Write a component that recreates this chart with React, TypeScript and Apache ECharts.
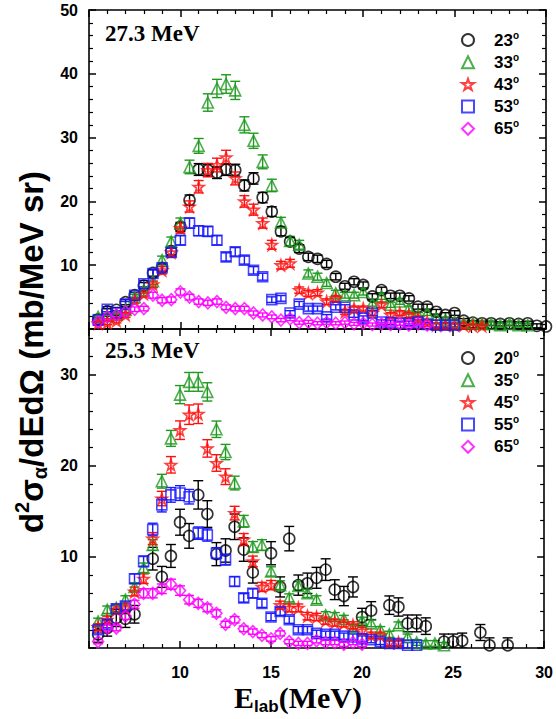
import React, { useEffect, useRef } from "react";
import * as echarts from "echarts";

// Lab energies (MeV) of the data points, shared by every series
const ENERGY = [
  5.5, 6, 6.5, 7, 7.5, 8, 8.5, 9, 9.5, 10,
  10.5, 11, 11.5, 12, 12.5, 13, 13.5, 14, 14.5, 15,
  15.5, 16, 16.5, 17, 17.5, 18, 18.5, 19, 19.5, 20,
  20.5, 21, 21.5, 22, 22.5, 23, 23.5, 24, 24.5, 25,
  25.5, 26, 26.5, 27, 27.5, 28, 28.5, 29, 29.5, 30,
];

// ---- 27.3 MeV panel (mb/MeV sr) ----
const TOP_23 = [
  1.5, 2.8, 3.0, 4.2, 5.3, 6.8, 8.8, 9.6, 12.2, 16.0,
  20.2, 25.0, 24.9, 24.5, 25.0, 24.9, 22.5, 23.6, 20.6, 18.4,
  15.3, 13.7, 12.6, 11.3, 11.0, 10.2, 8.2, 6.7, 7.4, 6.9,
  5.1, 6.1, 5.2, 5.2, 4.8, 3.5, 3.5, 2.7, 2.2, 2.5,
  1.3, 1.0, 0.9, 0.9, 0.8, 0.9, 0.8, 0.9, 0.5, 0.4,
];
const TOP_33 = [
  1.9, 2.0, 2.2, 3.0, 5.0, 6.1, 7.5, 10.8, 13.7, 16.6,
  25.4, 28.7, 35.5, 37.7, 38.4, 37.4, 32.0, 29.5, 26.2, 22.5,
  16.7, 13.8, 13.2, 8.7, 8.2, 7.2, 5.6, 5.3, 5.3, 5.8,
  4.0, 5.1, 3.8, 4.3, 3.2, 2.2, 2.5, 1.7, 1.4, 1.1,
  0.9, 0.9, 0.8, 0.8, 0.6, 0.8, 0.6, 0.6, null, null,
];
const TOP_43 = [
  0.9, 1.0, 1.3, 2.2, 4.5, 5.5, 7.0, 9.2, 12.0, 15.8,
  19.2, 22.3, 24.9, 25.7, 26.9, 23.6, 20.0, 18.7, 16.6, 13.2,
  10.0, 10.3, 6.1, 5.6, 5.7, 4.3, 4.8, 2.7, 3.2, 3.2,
  2.5, 3.8, 2.2, 2.5, 2.2, 1.7, 1.1, 0.6, 0.6, 0.6,
  0.6, 0.5, 0.5, null, null, null, null, null, null, null,
];
const TOP_53 = [
  1.4, 3.1, 2.5, 3.9, 5.3, 7.1, 8.7, 9.6, 12.0, 13.9,
  16.6, 15.4, 15.3, 13.9, 11.3, 12.1, 10.8, 9.2, 8.2, 4.6,
  4.8, 2.5, 3.9, 3.2, 3.2, 1.9, 3.4, 3.4, 2.2, 1.7,
  2.5, 1.1, 1.0, 0.9, 0.9, 1.1, 0.7, 0.6, 0.6, 0.6,
  null, null, null, null, null, null, null, null, null, null,
];
const TOP_65 = [
  1.1, 1.9, 2.2, 2.7, 3.1, 3.2, 5.3, 4.5, 4.6, 5.8,
  5.0, 4.3, 4.1, 4.3, 3.4, 3.2, 3.2, 2.5, 2.2, 1.9,
  1.4, 1.6, 1.0, 1.1, 0.9, 1.0, 0.9, 1.0, 0.8, 0.9,
  0.7, 0.8, 0.7, 0.8, 0.6, 0.8, 0.6, null, null, null,
  null, null, null, null, null, null, null, null, null, null,
];

// ---- 25.3 MeV panel (mb/MeV sr) ----
const BOT_20 = [
  1.5, 2.2, 3.3, 3.2, 3.7, null, 9.8, 7.8, 10.1, 13.8,
  12.3, 16.8, 14.7, 10.3, 10.7, 13.3, 10.8, 8.3, null, 10.4,
  6.7, 12.0, 6.9, 7.1, 7.7, 8.6, 6.4, 5.7, 6.7, 3.4,
  4.1, null, 4.7, 4.5, 2.7, 2.7, 2.4, null, 0.7, 0.7,
  0.8, null, 1.7, 0.3, null, 0.3, null, null, null, null,
];
const BOT_35 = [
  2.9, 4.2, 4.4, 5.3, 6.7, 8.8, 11.3, 18.3, 23.0, 27.8,
  29.2, 29.2, 28.1, 24.0, 21.5, 18.1, 13.9, 11.1, 11.3, 8.4,
  6.9, 5.5, 6.8, 6.0, 5.3, 3.6, 3.5, 3.2, 2.2, 3.0,
  2.7, 2.0, 1.5, 2.5, 1.2, 0.6, 0.5, 0.5, 0.3, null,
  null, null, null, null, null, null, null, null, null, null,
];
const BOT_45 = [
  2.3, 3.1, 4.2, 4.4, 6.2, 7.6, 12.0, 16.4, 20.1, 23.9,
  25.6, 25.7, 21.9, 20.3, 18.8, 14.8, 11.9, 9.5, 6.7, 6.9,
  4.7, 4.4, 4.4, 3.5, 3.4, 3.0, 2.8, 2.7, 2.5, 1.9,
  1.4, 1.4, 0.6, 0.6, null, null, null, null, null, null,
  null, null, null, null, null, null, null, null, null, null,
];
const BOT_55 = [
  2.0, 2.6, 4.3, 4.6, 7.6, 9.5, 13.0, 15.7, 16.8, 17.0,
  16.6, 12.6, 12.4, 10.4, 9.7, 7.3, 5.5, 6.0, 4.9, 3.4,
  4.0, 3.1, 2.0, 2.0, 1.6, 1.5, 1.5, 1.3, 1.2, 1.0,
  0.9, 0.7, 0.5, 0.5, 0.3, 0.3, null, null, null, null,
  null, null, null, null, null, null, null, null, null, null,
];
const BOT_65 = [
  0.7, 2.2, 2.2, 3.5, 4.8, 6.0, 6.0, 6.5, 7.0, 6.3,
  5.3, 4.9, 4.4, 3.8, 2.6, 3.1, 2.1, 1.8, 1.4, 1.0,
  1.6, 0.7, 0.5, 0.5, 0.8, 0.6, 0.6, 0.4, 0.6, 0.4,
  null, null, null, null, null, null, null, null, null, null,
  null, null, null, null, null, null, null, null, null, null,
];

// Estimated uncertainties: absolute floor + relative part, per series
const ERR_TOP_FLOOR = [0.3, 0.3, 0.3, 0.3, 0.2];
const ERR_TOP_FRAC = [0.025, 0.03, 0.03, 0.03, 0.05];
const ERR_BOT_FLOOR = [0.8, 0.3, 0.3, 0.3, 0.2];
const ERR_BOT_FRAC = [0.045, 0.025, 0.03, 0.03, 0.05];

const TOP_ANGLES = ["23", "33", "43", "53", "65"];
const BOT_ANGLES = ["20", "35", "45", "55", "65"];
const TOP_Y_TICKS = [0, 50, 10];
const BOT_Y_TICKS = [0, 35, 10];

const COLORS = ["#000000", "#1f9a1f", "#ff1010", "#1a1aff", "#ff00ff"];
const STAR =
  "path://M50,0 L61.8,35.4 L100,35.4 L69.1,57.3 L80.9,92.7 L50,70.8 L19.1,92.7 L30.9,57.3 L0,35.4 L38.2,35.4 Z";
const SYMBOLS = ["circle", "triangle", STAR, "rect", "diamond"];
const SIZES: any[] = [11, 11, 11, 10, [11, 12]];

const SANS = "Liberation Sans";
const SERIF = "Liberation Serif";

function points(values: (number | null)[]) {
  const out: number[][] = [];
  values.forEach((v, i) => {
    if (v !== null && v !== undefined) out.push([ENERGY[i], v]);
  });
  return out;
}

function makeSeries(panel: number, names: string[], sets: any[], floors: number[], fracs: number[]) {
  const res: any[] = [];
  sets.forEach((vals: any, k: number) => {
    const pts = points(vals);
    const color = COLORS[k];
    const axisIdx = panel === 0 ? 0 : 2;
    res.push({
      type: "custom",
      name: "err-" + panel + "-" + names[k],
      xAxisIndex: axisIdx,
      yAxisIndex: axisIdx,
      clip: true,
      z: 2,
      data: pts.map((p) => [p[0], p[1], floors[k] + fracs[k] * p[1]]),
      renderItem: (params: any, api: any) => {
        const x = api.value(0);
        const y = api.value(1);
        const e = api.value(2);
        const t = api.coord([x, y + e]);
        const b = api.coord([x, Math.max(0, y - e)]);
        const hw = 5;
        const st = { stroke: color, lineWidth: 1.4 };
        return {
          type: "group",
          children: [
            { type: "line", shape: { x1: t[0], y1: t[1], x2: b[0], y2: b[1] }, style: st },
            { type: "line", shape: { x1: t[0] - hw, y1: t[1], x2: t[0] + hw, y2: t[1] }, style: st },
            { type: "line", shape: { x1: b[0] - hw, y1: b[1], x2: b[0] + hw, y2: b[1] }, style: st },
          ],
        };
      },
    });
    res.push({
      type: "scatter",
      name: panel + "-" + names[k],
      xAxisIndex: axisIdx,
      yAxisIndex: axisIdx,
      symbol: SYMBOLS[k],
      symbolSize: SIZES[k],
      z: 3,
      itemStyle: { color: "transparent", borderColor: color, borderWidth: 1.6 },
      data: pts,
    });
  });
  return res;
}

function xAxis(grid: number, position: string, labels: boolean) {
  return {
    type: "value",
    gridIndex: grid,
    position,
    min: 5,
    max: 30,
    interval: 5,
    axisLine: { show: true, onZero: false, lineStyle: { color: "#000", width: 1.6 } },
    axisTick: { show: true, inside: true, length: 7, lineStyle: { color: "#000", width: 1.5 } },
    minorTick: { show: true, splitNumber: 5, length: 4, lineStyle: { color: "#000", width: 1.2 } },
    splitLine: { show: false },
    axisLabel: {
      show: labels,
      margin: 16,
      color: "#000",
      fontFamily: SANS,
      fontWeight: "bold",
      fontSize: 16,
      formatter: (v: number) => (v === 5 ? "" : String(v)),
    },
  };
}

function yAxis(grid: number, position: string, labels: boolean, ticks: number[]) {
  return {
    type: "value",
    gridIndex: grid,
    position,
    min: ticks[0],
    max: ticks[1],
    interval: ticks[2],
    axisLine: { show: true, onZero: false, lineStyle: { color: "#000", width: 1.6 } },
    axisTick: { show: true, inside: true, length: 7, lineStyle: { color: "#000", width: 1.5 } },
    minorTick: { show: true, splitNumber: 5, length: 4, lineStyle: { color: "#000", width: 1.2 } },
    splitLine: { show: false },
    axisLabel: {
      show: labels,
      margin: 11,
      color: "#000",
      fontFamily: SANS,
      fontWeight: "bold",
      fontSize: 16,
      formatter: (v: number) => (v === 0 || v % ticks[2] !== 0 ? "" : String(v)),
    },
  };
}

function legend(panel: number, names: string[], top: number) {
  return {
    orient: "vertical",
    left: 456,
    top,
    itemWidth: 12,
    itemHeight: 12,
    itemGap: 3.7,
    selectedMode: false,
    data: names.map((n) => panel + "-" + n),
    formatter: (name: string) => "{n|" + name.split("-")[1] + "}{s|o}",
    textStyle: {
      rich: {
        n: { fontFamily: SANS, fontWeight: "bold", fontSize: 17, color: "#000", lineHeight: 20, padding: [0, 0, 0, 15] },
        s: { fontFamily: SANS, fontWeight: "bold", fontSize: 10, color: "#000", lineHeight: 10, verticalAlign: "top" },
      },
    },
  };
}

function buildOption() {
  return {
    animation: false,
    backgroundColor: "#fff",
    grid: [
      { left: 89, top: 10, width: 457, height: 319 },
      { left: 89, top: 329, width: 457, height: 319 },
    ],
    xAxis: [xAxis(0, "bottom", false), xAxis(0, "top", false), xAxis(1, "bottom", true), xAxis(1, "top", false)],
    yAxis: [
      yAxis(0, "left", true, TOP_Y_TICKS),
      yAxis(0, "right", false, TOP_Y_TICKS),
      yAxis(1, "left", true, BOT_Y_TICKS),
      yAxis(1, "right", false, BOT_Y_TICKS),
    ],
    legend: [legend(0, TOP_ANGLES, 25), legend(1, BOT_ANGLES, 343)],
    series: [
      ...makeSeries(0, TOP_ANGLES, [TOP_23, TOP_33, TOP_43, TOP_53, TOP_65], ERR_TOP_FLOOR, ERR_TOP_FRAC),
      ...makeSeries(1, BOT_ANGLES, [BOT_20, BOT_35, BOT_45, BOT_55, BOT_65], ERR_BOT_FLOOR, ERR_BOT_FRAC),
    ],
    graphic: [
      {
        type: "text",
        left: 105,
        top: 22,
        style: { text: "27.3 MeV", fontFamily: SERIF, fontWeight: "bold", fontSize: 23, fill: "#000" },
      },
      {
        type: "text",
        left: 105,
        top: 339,
        style: { text: "25.3 MeV", fontFamily: SERIF, fontWeight: "bold", fontSize: 23, fill: "#000" },
      },
      {
        type: "text",
        x: 31,
        y: 352,
        rotation: Math.PI / 2,
        style: {
          text: "{a|d}{p|2}{a|σ}{b|α}{a|/dEdΩ (mb/MeV sr)}",
          align: "center",
          verticalAlign: "middle",
          fill: "#000",
          rich: {
            a: { fontFamily: SANS, fontWeight: "bold", fontSize: 33, lineHeight: 38, fill: "#000" },
            p: { fontFamily: SANS, fontWeight: "bold", fontSize: 20, lineHeight: 20, verticalAlign: "top", fill: "#000" },
            b: { fontFamily: SANS, fontWeight: "bold", fontSize: 20, lineHeight: 16, verticalAlign: "bottom", fill: "#000" },
          },
        },
      },
      {
        type: "text",
        x: 298,
        y: 697,
        style: {
          text: "{e|E}{l|lab}{e|(MeV)}",
          align: "center",
          verticalAlign: "middle",
          rich: {
            e: { fontFamily: SERIF, fontWeight: "bold", fontSize: 30, lineHeight: 36, fill: "#000" },
            l: { fontFamily: SANS, fontWeight: "bold", fontSize: 17, lineHeight: 12, verticalAlign: "bottom", fill: "#000" },
          },
        },
      },
    ],
  };
}

export default function App() {
  const ref = useRef<HTMLDivElement>(null);
  useEffect(() => {
    document.body.style.margin = "0";
    const chart = echarts.init(ref.current as HTMLDivElement, null, { renderer: "svg" });
    chart.setOption(buildOption() as any);
    return () => chart.dispose();
  }, []);
  return <div ref={ref} style={{ width: 556, height: 719 }} />;
}
